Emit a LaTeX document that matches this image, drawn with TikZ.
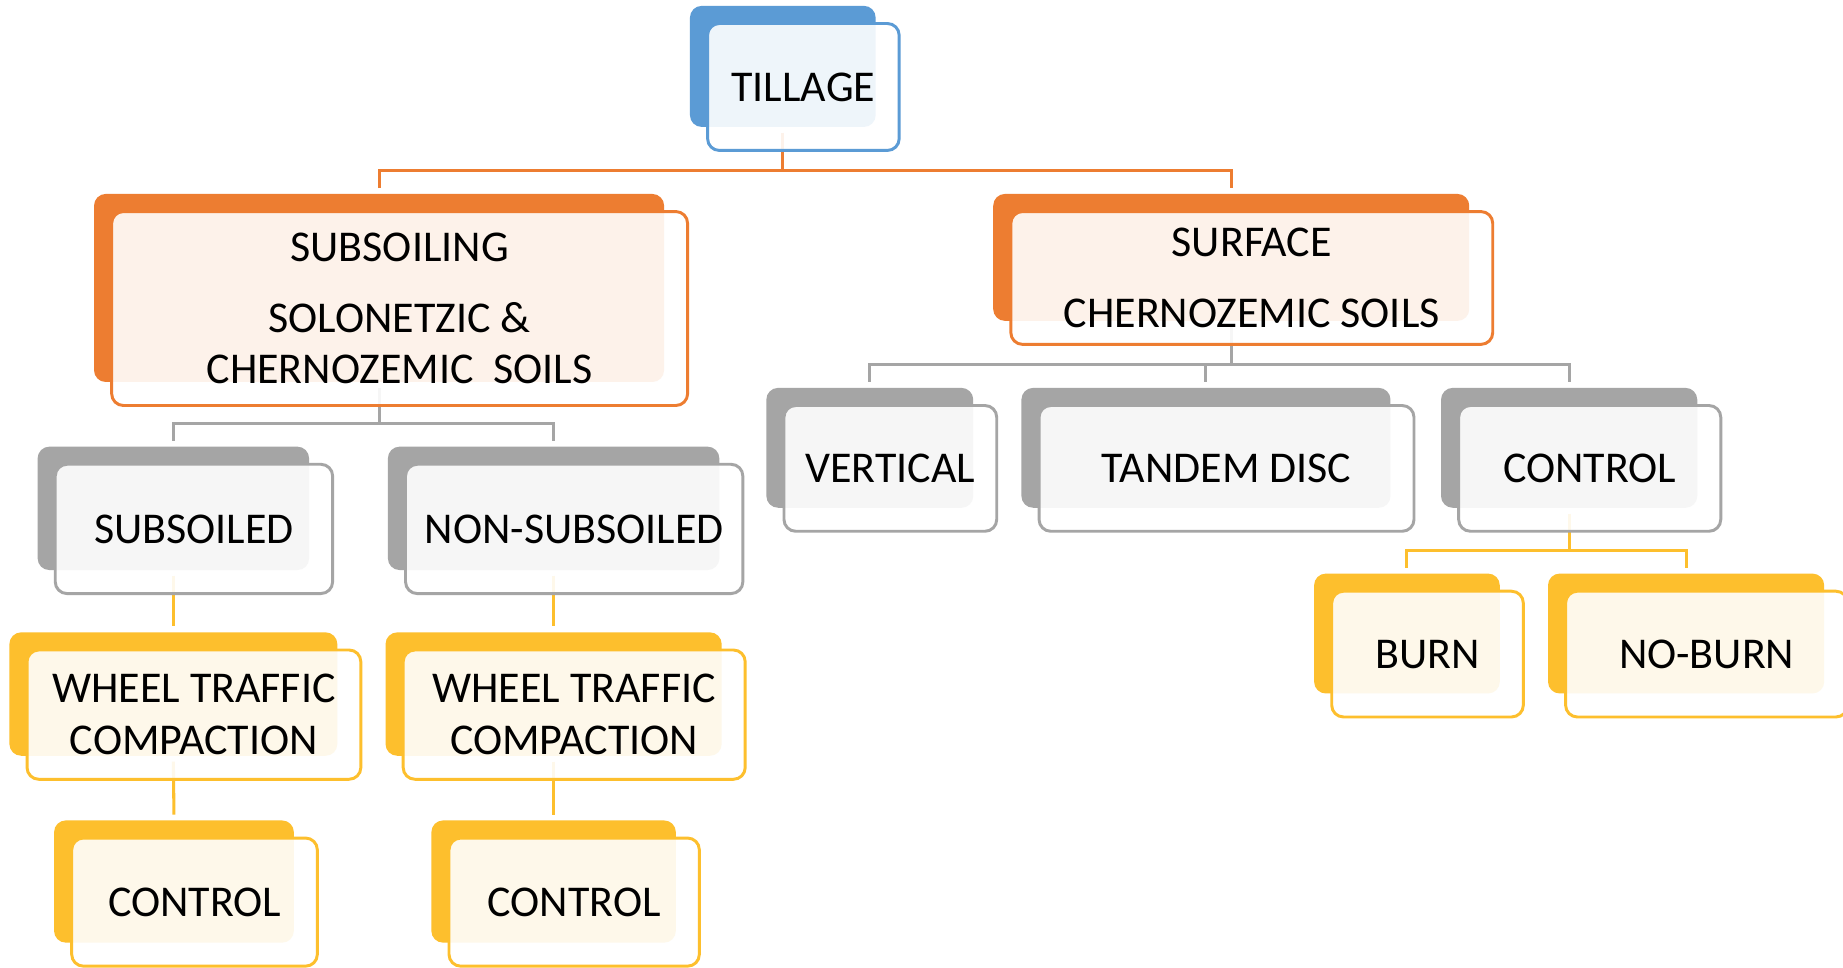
\documentclass[tikz,border=0pt]{standalone}
\usepackage{fontspec}
\setmainfont{Carlito}
\usetikzlibrary{backgrounds}
\definecolor{cblue}{HTML}{5B9BD5}
\definecolor{corange}{HTML}{ED7D31}
\definecolor{cgray}{HTML}{A5A5A5}
\definecolor{cgold}{HTML}{FDBF2D}
\newcommand\boxfont{\fontsize{18.7pt}{22pt}\selectfont}
\tikzset{
  backbox/.style={fill=#1, draw=none, rounded corners=5pt, inner sep=0pt, outer sep=0pt},
  frontbox/.style={draw=#1, line width=1.25pt, fill=white, fill opacity=0.9, text opacity=1,
    rounded corners=5pt, inner sep=0pt, outer sep=0pt, align=center, font=\boxfont},
  link/.style={draw=#1, line width=1.3pt},
}
% #1 name, #2 colour, #3-#6 corners of the filled back panel, #7 label
\newcommand\tier[7]{%
  \node[backbox=#2, minimum width={(#5-#3)*0.5pt}, minimum height={(#6-#4)*0.5pt}]
    (#1-b) at ({(#3+#5)/2},{(#4+#6)/2}) {};
  \node[frontbox=#2, minimum width={(#5-#3+5)*0.5pt}, minimum height={(#6-#4+5)*0.5pt}]
    (#1) at ({(#3+#5)/2+17.5},{(#4+#6)/2+17.5}) {#7};
}
\begin{document}
\begin{tikzpicture}[x=0.5pt,y=-0.5pt]
\useasboundingbox (0,0) rectangle (1568,823);
\clip (0,0) rectangle (1568,823);
\begin{pgfonlayer}{background}
  \fill[white] (0,0) rectangle (1568,823);
\end{pgfonlayer}

\tier{till}{cblue}{587}{5}{745}{108}{TILLAGE}
\tier{subs}{corange}{80}{165}{565}{325}{SUBSOILING\\[8pt]SOLONETZIC \&\\CHERNOZEMIC\ \ SOILS}
\tier{surf}{corange}{845}{165}{1250}{273}{SURFACE\\[8pt]CHERNOZEMIC SOILS}
\tier{sbd}{cgray}{32}{380}{263}{485}{SUBSOILED}
\tier{nsb}{cgray}{330}{380}{612}{485}{NON-SUBSOILED}
\tier{vert}{cgray}{652}{330}{828}{432}{VERTICAL}
\tier{tand}{cgray}{869}{330}{1183}{432}{TANDEM DISC}
\tier{ctlr}{cgray}{1226}{330}{1444}{432}{CONTROL}
\tier{wtca}{cgold}{8}{538}{287}{643}{WHEEL TRAFFIC\\COMPACTION}
\tier{wtcb}{cgold}{328}{538}{614}{643}{WHEEL TRAFFIC\\COMPACTION}
\tier{ctla}{cgold}{46}{698}{250}{802}{CONTROL}
\tier{ctlb}{cgold}{367}{698}{575}{802}{CONTROL}
\tier{burn}{cgold}{1118}{488}{1276}{590}{BURN}
\tier{nob}{cgold}{1317}{488}{1552}{590}{NO-BURN}

\begin{pgfonlayer}{background}
  % tillage -> subsoiling / surface
  \coordinate (j0) at (till-b.south |- 0,145);
  \draw[link=corange] ([yshift=-2.5pt]till-b.south) -- (j0);
  \draw[link=corange] ([yshift=2.5pt]subs-b.north) |- (j0) -| ([yshift=2.5pt]surf-b.north);
  % subsoiling -> subsoiled / non-subsoiled
  \coordinate (j1) at (subs-b.south |- 0,360);
  \draw[link=cgray] ([yshift=-2.5pt]subs-b.south) -- (j1);
  \draw[link=cgray] ([yshift=2.5pt]sbd-b.north) |- (j1) -| ([yshift=2.5pt]nsb-b.north);
  % surface -> vertical / tandem disc / control
  \coordinate (j2) at (surf-b.south |- 0,310);
  \draw[link=cgray] ([yshift=-2.5pt]surf-b.south) -- (j2);
  \draw[link=cgray] ([yshift=2.5pt]vert-b.north) |- (j2) -| ([yshift=2.5pt]ctlr-b.north);
  \draw[link=cgray] (tand-b.north |- j2) -- ([yshift=2.5pt]tand-b.north);
  % control -> burn / no-burn
  \coordinate (j3) at (ctlr-b.south |- 0,468);
  \draw[link=cgold] ([yshift=-2.5pt]ctlr-b.south) -- (j3);
  \draw[link=cgold] ([yshift=2.5pt]burn-b.north) |- (j3) -| ([yshift=2.5pt]nob-b.north);
  % straight chains under the subsoiling branch
  \draw[link=cgold] ([yshift=-2.5pt]sbd-b.south) -- ([yshift=2.5pt]wtca-b.north);
  \draw[link=cgold] ([yshift=-2.5pt]nsb-b.south) -- ([yshift=2.5pt]wtcb-b.north);
  \draw[link=cgold] ([yshift=-2.5pt]wtca-b.south) -- ([yshift=2.5pt]ctla-b.north);
  \draw[link=cgold] ([yshift=-2.5pt]wtcb-b.south) -- ([yshift=2.5pt]ctlb-b.north);
\end{pgfonlayer}
\end{tikzpicture}
\end{document}
